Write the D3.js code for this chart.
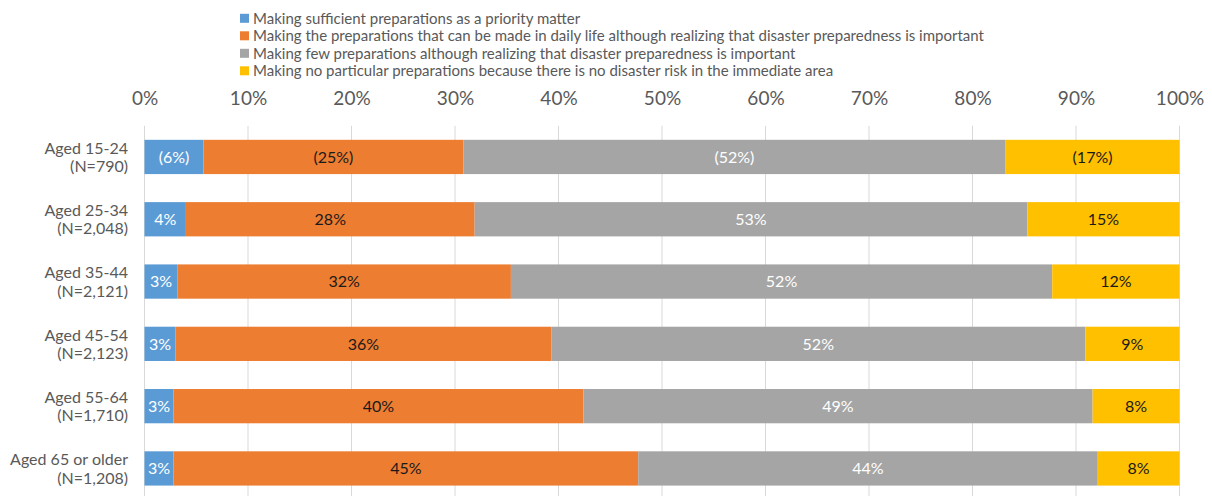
<!DOCTYPE html>
<html>
<head>
<meta charset="utf-8">
<script src="https://cdn.jsdelivr.net/npm/d3@7"></script>
<style>
  html, body { margin: 0; padding: 0; background: #fff; }
  svg { display: block; font-family: Lato, "Open Sans", sans-serif; }
</style>
</head>
<body>
<svg id="chart" width="1212" height="496"></svg>
<script>
// Age groups (two-line labels) and sample sizes
const categories = ["Aged 15-24", "Aged 25-34", "Aged 35-44", "Aged 45-54", "Aged 55-64", "Aged 65 or older"];
const sampleSizes = ["(N=790)", "(N=2,048)", "(N=2,121)", "(N=2,123)", "(N=1,710)", "(N=1,208)"];
// Small-sample group whose labels are shown in parentheses
const smallSample = [true, false, false, false, false, false];

const seriesNames = [
  "Making sufficient preparations as a priority matter",
  "Making the preparations that can be made in daily life although realizing that disaster preparedness is important",
  "Making few preparations although realizing that disaster preparedness is important",
  "Making no particular preparations because there is no disaster risk in the immediate area"
];
// Share of respondents (%) per age group
const sufficient = [5.7, 4.0, 3.2, 3.0, 2.8, 2.8];
const daily      = [25.1, 27.9, 32.2, 36.3, 39.6, 44.9];
const few        = [52.4, 53.4, 52.3, 51.6, 49.2, 44.4];
const noRisk     = [16.8, 14.7, 12.3, 9.1, 8.4, 7.9];

const tickValues = [0, 10, 20, 30, 40, 50, 60, 70, 80, 90, 100];

const colors = ["#5B9BD5", "#ED7D31", "#A5A5A5", "#FFC000"];
const labelColors = ["#ffffff", "#1a1a1a", "#ffffff", "#1a1a1a"];

const seriesValues = [sufficient, daily, few, noRisk];
const rows = categories.map((c, i) => {
  const r = { category: c, n: sampleSizes[i], small: smallSample[i] };
  seriesValues.forEach((vals, k) => r["s" + k] = vals[i]);
  return r;
});
const keys = seriesValues.map((_, k) => "s" + k);

const svg = d3.select("#chart");

const x = d3.scaleLinear().domain([0, 100]).range([144.5, 1179.5]);
const y = d3.scaleBand().domain(categories).range([125.8, 499.6]).paddingInner(0.45).paddingOuter(0.225);

// Vertical gridlines
svg.append("g")
  .selectAll("line")
  .data(tickValues)
  .join("line")
  .attr("x1", d => x(d)).attr("x2", d => x(d))
  .attr("y1", 125.8).attr("y2", 496)
  .attr("stroke", "#D9D9D9").attr("stroke-width", 1);

// Percentage axis along the top
const xAxis = d3.axisTop(x).tickValues(tickValues).tickFormat(d => d + "%").tickSize(0).tickPadding(0);
const axisG = svg.append("g").attr("transform", "translate(0,105)").call(xAxis);
axisG.select(".domain").remove();
axisG.selectAll("text").attr("fill", "#595959").style("font-size", "19px").style("font-family", "Lato, sans-serif");

// Stacked bars
const stack = d3.stack().keys(keys)(rows);
const layers = svg.append("g").selectAll("g")
  .data(stack)
  .join("g")
  .attr("fill", (d, k) => colors[k]);

layers.selectAll("rect")
  .data(d => d)
  .join("rect")
  .attr("x", d => x(d[0]))
  .attr("width", d => x(d[1]) - x(d[0]))
  .attr("y", d => y(d.data.category))
  .attr("height", y.bandwidth());

// Value labels, derived from the same values
svg.append("g").selectAll("g")
  .data(stack)
  .join("g")
  .attr("fill", (d, k) => labelColors[k])
  .selectAll("text")
  .data(d => d.map(p => ({ p, key: d.key })))
  .join("text")
  .attr("x", d => (x(d.p[0]) + x(d.p[1])) / 2)
  .attr("y", d => y(d.p.data.category) + y.bandwidth() / 2)
  .attr("dy", "0.36em")
  .attr("text-anchor", "middle")
  .style("font-size", "16px")
  .text(d => {
    const v = Math.round(d.p.data[d.key]) + "%";
    return d.p.data.small ? "(" + v + ")" : v;
  });

// Category labels on the left
const catG = svg.append("g").selectAll("text")
  .data(rows)
  .join("text")
  .attr("text-anchor", "end")
  .attr("fill", "#595959")
  .style("font-size", "16px")
  .attr("x", 128)
  .attr("y", d => y(d.category) + y.bandwidth() / 2);
catG.append("tspan").attr("x", 128).attr("dy", "-0.2em").text(d => d.category);
catG.append("tspan").attr("x", 128).attr("dy", "1.15em").text(d => d.n);

// Legend
const legend = svg.append("g").selectAll("g")
  .data(seriesNames)
  .join("g")
  .attr("transform", (d, i) => `translate(240,${18.3 + i * 17.5})`);
legend.append("rect")
  .attr("x", 0).attr("y", -4.5).attr("width", 9).attr("height", 9)
  .attr("fill", (d, i) => colors[i]);
legend.append("text")
  .attr("x", 13).attr("dy", "0.36em")
  .attr("fill", "#595959")
  .style("font-size", "15px")
  .text(d => d);
</script>
</body>
</html>
